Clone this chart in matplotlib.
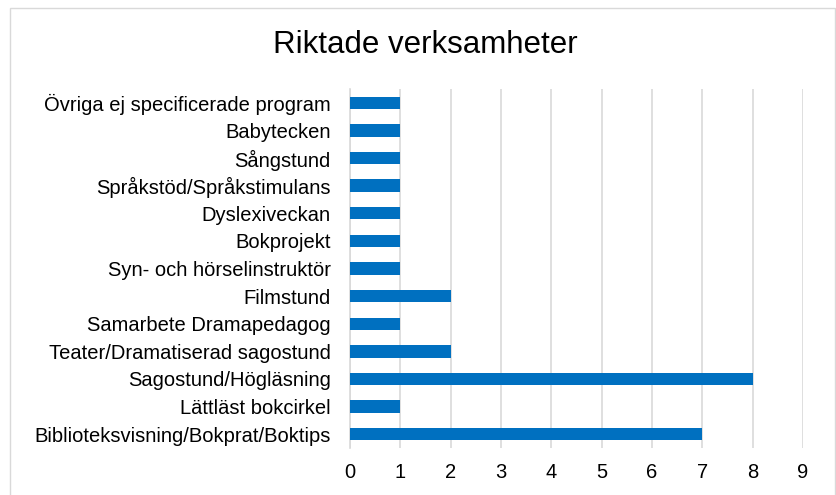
import matplotlib
matplotlib.use("Agg")
import matplotlib.pyplot as plt
from matplotlib.patches import Rectangle

plt.rcParams['font.family'] = ['Liberation Sans', 'DejaVu Sans']

categories = [
    "Övriga ej specificerade program",
    "Babytecken",
    "Sångstund",
    "Språkstöd/Språkstimulans",
    "Dyslexiveckan",
    "Bokprojekt",
    "Syn- och hörselinstruktör",
    "Filmstund",
    "Samarbete Dramapedagog",
    "Teater/Dramatiserad sagostund",
    "Sagostund/Högläsning",
    "Lättläst bokcirkel",
    "Biblioteksvisning/Bokprat/Boktips",
]
values = [1, 1, 1, 1, 1, 1, 1, 2, 1, 2, 8, 1, 7]
xticks = list(range(0, 10))

fig = plt.figure(figsize=(8.37, 4.95), dpi=100)
ax = fig.add_axes([350/837, 1-448/495, (803-350)/837, (448-89)/495])

n = len(categories)
ypos = list(range(n))[::-1]
ax.barh(ypos, values, height=0.45, color="#0070C0", zorder=3)
ax.set_yticks(ypos)
ax.set_yticklabels(categories, fontsize=14.5)
ax.set_ylim(-0.5, n - 0.5)
ax.set_xlim(0, 9)
ax.set_xticks(xticks)
ax.set_xticklabels([str(t) for t in xticks], fontsize=14.5)
ax.grid(axis='x', color="#D9D9D9", linewidth=1.2, zorder=0)
for s in ['top', 'right', 'bottom']:
    ax.spines[s].set_visible(False)
ax.spines['left'].set_color("#D9D9D9")
ax.spines['left'].set_linewidth(1.2)
ax.tick_params(axis='both', length=0, colors="#000000")
ax.tick_params(axis='x', pad=11)
ax.tick_params(axis='y', pad=14)

fig.text(425/837, 1-45/495, "Riktade verksamheter", ha='center', va='center', fontsize=22.5)
fig.patches.append(Rectangle((10/837, -0.05), 825/837, 1.05-8/495, transform=fig.transFigure,
                             fill=False, edgecolor="#D9D9D9", linewidth=1))

fig.savefig("out.png", dpi=100)
